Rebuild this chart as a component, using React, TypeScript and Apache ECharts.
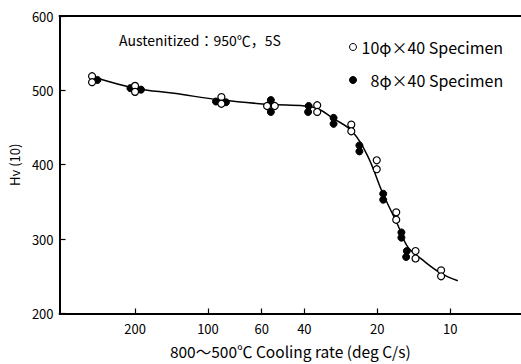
import React, { useEffect, useRef } from "react";
import * as echarts from "echarts";

// Cooling rate (deg C/s) and hardness Hv(10)
const openRate = [301, 301, 200, 200, 88, 88, 57, 53, 35.4, 35.4, 25.6, 25.6, 20.1, 20.1, 16.7, 16.7, 13.9, 13.9, 10.9, 10.9];
const openHv = [519, 511, 506, 498, 491, 482, 479, 479, 480, 471, 454, 445, 406, 394, 336, 326, 284, 274, 258, 250];

const filledRate = [286, 209, 189, 92.7, 84.3, 55, 55, 38.4, 38.6, 30.3, 30.3, 23.7, 23.7, 18.9, 18.9, 15.9, 15.9, 15.1, 15.2];
const filledHv = [514, 503, 501, 485, 484, 487, 471, 479, 471, 463, 455, 426, 418, 361, 353, 309, 302, 284, 276];

const curveRate = [290, 200, 138, 88, 55, 40, 35, 30.3, 25.6, 22, 19, 16.5, 15, 13, 10.9, 9.3];
const curveHv = [517, 503, 496, 487, 481, 479, 475, 462, 446, 413, 362, 320, 290, 272, 254, 244];

const xTicks = [200, 100, 60, 40, 20, 10];

const openName = "10φ×40 Specimen";
const filledName = "8φ×40 Specimen";

const FONT = "Noto Sans CJK JP";

export default function App() {
  const ref = useRef<HTMLDivElement>(null);
  useEffect(() => {
    if (!ref.current) return;
    const chart = echarts.init(ref.current, null, { renderer: "svg" });
    const zip = (a: number[], b: number[]) => a.map((v, i) => [v, b[i]]);
    chart.setOption({
      animation: false,
      backgroundColor: "#fff",
      textStyle: { fontFamily: FONT, color: "#000" },
      grid: { left: 58, right: 0, top: 16, bottom: 47 },
      legend: {
        data: [openName, filledName],
        orient: "vertical",
        left: 349,
        top: 39,
        padding: 0,
        itemWidth: 7,
        itemHeight: 7,
        itemGap: 17,
        icon: "circle",
        itemStyle: { borderWidth: 1 },
        textStyle: {
          fontFamily: FONT,
          fontSize: 16,
          lineHeight: 16,
          color: "#000",
          rich: { pad: { width: 9, fontSize: 16, lineHeight: 16 } },
        },
        formatter: (name: string) => (name === filledName ? "{pad|}" + name : name),
      },
      graphic: [
        {
          type: "text",
          left: 119,
          top: 33,
          style: {
            text: "Austenitized：950℃，5S",
            font: `14px "${FONT}"`,
            fill: "#000",
          },
        },
      ],
      xAxis: [
        {
          type: "log",
          logBase: 10,
          min: 5.1,
          max: 410,
          inverse: true,
          name: "800～500℃ Cooling rate (deg C/s)",
          nameLocation: "middle",
          nameGap: 30,
          nameTextStyle: { fontFamily: FONT, fontSize: 15.5, color: "#000" },
          axisLine: { show: true, lineStyle: { color: "#000", width: 2 } },
          axisTick: { show: true, inside: true, length: 5, lineStyle: { color: "#000", width: 1.2 }, customValues: xTicks },
          axisLabel: { fontFamily: FONT, fontSize: 13, color: "#000", margin: 8, customValues: xTicks },
          minorTick: { show: false },
          splitLine: { show: false },
        },
        {
          type: "value",
          position: "top",
          min: 0,
          max: 1,
          axisLine: { show: true, onZero: false, lineStyle: { color: "#000", width: 2 } },
          axisTick: { show: false },
          axisLabel: { show: false },
          splitLine: { show: false },
        },
      ],
      yAxis: {
        type: "value",
        min: 200,
        max: 600,
        interval: 100,
        name: "Hv (10)",
        nameLocation: "middle",
        nameGap: 36,
        nameRotate: 90,
        nameTextStyle: { fontFamily: FONT, fontSize: 13, color: "#000" },
        axisLine: { show: true, lineStyle: { color: "#000", width: 2 } },
        axisTick: { show: true, inside: true, length: 6, lineStyle: { color: "#000", width: 1.2 } },
        axisLabel: { fontFamily: FONT, fontSize: 13, color: "#000", margin: 6 },
        splitLine: { show: false },
      },
      series: [
        {
          type: "line",
          data: zip(curveRate, curveHv),
          smooth: 0.4,
          showSymbol: false,
          silent: true,
          lineStyle: { color: "#000", width: 1.5 },
          z: 1,
        },
        {
          name: openName,
          type: "scatter",
          data: zip(openRate, openHv),
          symbol: "circle",
          symbolSize: 7,
          itemStyle: { color: "#fff", borderColor: "#000", borderWidth: 1.2, opacity: 1 },
          z: 3,
        },
        {
          name: filledName,
          type: "scatter",
          data: zip(filledRate, filledHv),
          symbol: "circle",
          symbolSize: 7,
          itemStyle: { color: "#000", borderColor: "#000", borderWidth: 1, opacity: 1 },
          z: 2,
        },
      ],
    });
    return () => chart.dispose();
  }, []);
  return (
    <div
      ref={ref}
      style={{ position: "fixed", left: 0, top: 0, width: 521, height: 364, background: "#fff" }}
    />
  );
}
